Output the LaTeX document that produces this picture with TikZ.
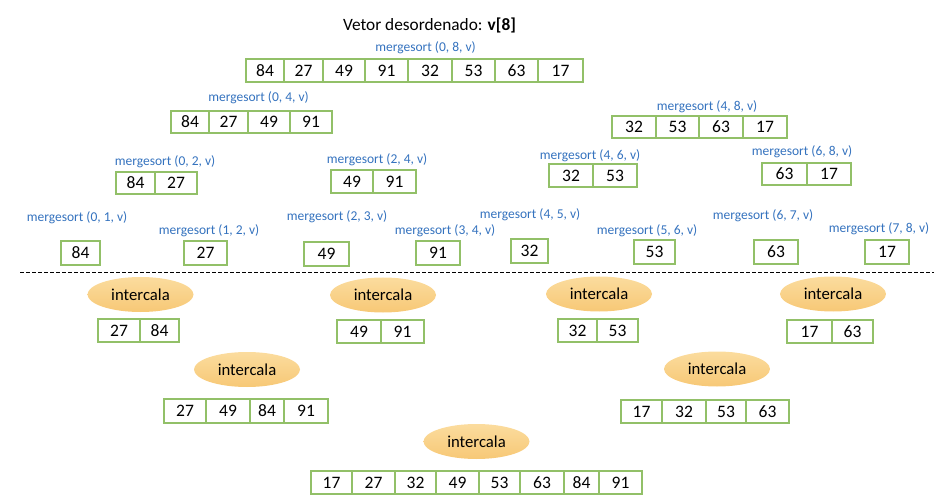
\documentclass[tikz,border=0pt]{standalone}
\usepackage{fontspec}
\setmainfont{Carlito}
\usetikzlibrary{shapes.geometric}
\definecolor{cellgreen}{RGB}{146,192,104}
\definecolor{lblblue}{RGB}{52,114,190}
\definecolor{ovtop}{RGB}{251,220,158}
\definecolor{ovbot}{RGB}{247,200,118}
\newcommand\cellrow[4]{%
  \foreach \l/\r/\t [count=\i] in {#4} {
    \node[cell, minimum width={(\r-\l)*1pt}, minimum height={(#3-#2)*1pt}]
      (#1\i) at ({(\l+\r)/2},{(#2+#3)/2}) {\t};
  }}
\begin{document}
\begin{tikzpicture}[x=1pt,y=-1pt,
  cell/.style={draw=cellgreen, line width=1.1pt, inner sep=0pt, fill=white,
    font=\fontsize{17.5}{20}\selectfont},
  lbl/.style={text=lblblue, inner sep=0pt, font=\fontsize{13.5}{15}\selectfont},
  titlebox/.style={inner sep=0pt, anchor=base, font=\fontsize{17.3}{20}\selectfont},
  merge/.style={ellipse, draw=none, top color=ovtop, bottom color=ovbot,
    minimum width=106pt, minimum height=35pt, inner sep=0pt,
    font=\fontsize{16.7}{19}\selectfont},
  sep/.style={draw=black, line width=0.8pt, dash pattern=on 3.5pt off 2.5pt}]
\useasboundingbox (0,0) rectangle (952,502);

% title
\node[titlebox] (title) at (429.5,31) {Vetor desordenado: \textbf{v[8]}};

% level 0
\node[lbl] (l08) at (425.5,48) {mergesort (0, 8, v)};
\cellrow{a}{59}{82}{246/284/84,284/323/27,323/365/49,365/408/91,408/452/32,452/495/53,495/538/63,538/583/17}

% level 1
\node[lbl] (l04) at (258.5,98) {mergesort (0, 4, v)};
\cellrow{b}{111}{133}{171/209/84,209/248/27,248/290/49,290/332/91}
\node[lbl] (l48) at (707,106.5) {mergesort (4, 8, v)};
\cellrow{c}{116}{138}{612/656/32,656/699/53,699/743/63,743/787/17}

% level 2
\node[lbl] (l02) at (165,161.5) {mergesort (0, 2, v)};
\cellrow{d}{172}{194}{116/155/84,155/197/27}
\node[lbl] (l24) at (377,160) {mergesort (2, 4, v)};
\cellrow{e}{170}{193}{331/373/49,373/416/91}
\node[lbl] (l46) at (590,156) {mergesort (4, 6, v)};
\cellrow{f}{164}{187}{549/593/32,593/637/53}
\node[lbl] (l68) at (802,151.5) {mergesort (6, 8, v)};
\cellrow{g}{163}{185}{762/807/63,807/851/17}

% leaves
\node[lbl] (l01) at (77,218) {mergesort (0, 1, v)};
\cellrow{h}{241}{265}{61/100/84}
\node[lbl] (l12) at (209,231) {mergesort (1, 2, v)};
\cellrow{i}{241}{265}{184/227/27}
\node[lbl] (l23) at (337,216.5) {mergesort (2, 3, v)};
\cellrow{j}{242}{266}{304/349/49}
\node[lbl] (l34) at (445,231) {mergesort (3, 4, v)};
\cellrow{k}{241}{265}{416/460/91}
\node[lbl] (l45) at (530,214.5) {mergesort (4, 5, v)};
\cellrow{m}{239}{263}{511/548/32}
\node[lbl] (l56) at (647,231) {mergesort (5, 6, v)};
\cellrow{n}{240}{264}{634/675/53}
\node[lbl] (l67) at (763,215.5) {mergesort (6, 7, v)};
\cellrow{o}{240}{264}{754/798/63}
\node[lbl] (l78) at (879,229) {mergesort (7, 8, v)};
\cellrow{p}{240}{264}{865/909/17}

% separator
\coordinate (sepL) at (20,272);
\coordinate (sepR) at (934,272);
\draw[sep] (sepL) -- (sepR);

% merge level 1
\node[merge] (m1) at (140.5,294.5) {intercala};
\cellrow{q}{319}{342}{98/140/27,140/179/84}
\node[merge] (m2) at (383,295) {intercala};
\cellrow{r}{320}{343}{337/381/49,381/424/91}
\node[merge] (m3) at (599,294) {intercala};
\cellrow{s}{319}{342}{558/597/32,597/638/53}
\node[merge] (m4) at (833,294) {intercala};
\cellrow{t}{320}{343}{787/832/17,832/873/63}

% merge level 2
\node[merge] (m5) at (247,369.5) {intercala};
\cellrow{u}{399}{423}{164/206/27,206/250/49,250/284/84,284/328/91}
\node[merge] (m6) at (717,369) {intercala};
\cellrow{w}{400}{423}{621/662/17,662/706/32,706/746/53,746/789/63}

% merge level 3
\node[merge] (m7) at (476.5,441.5) {intercala};
\cellrow{z}{471}{494}{311/352/17,352/395/27,395/436/32,436/479/49,479/520/53,520/564/63,564/599/84,599/642/91}
\end{tikzpicture}
\end{document}
